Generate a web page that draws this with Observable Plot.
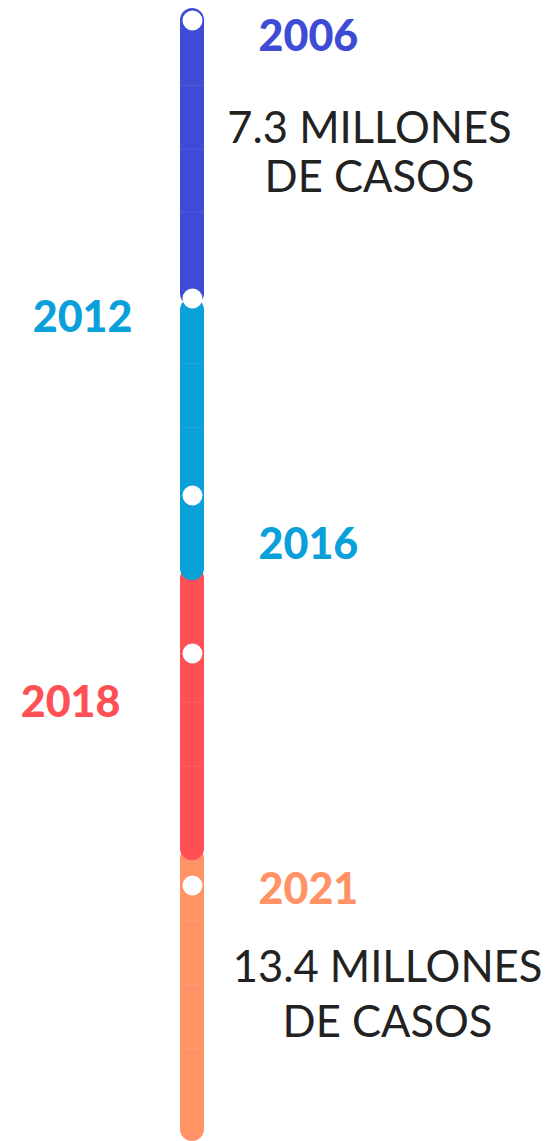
<!DOCTYPE html>
<html>
<head>
<meta charset="utf-8">
<script src="https://cdn.jsdelivr.net/npm/d3@7"></script>
<script src="https://cdn.jsdelivr.net/npm/@observablehq/plot@0.6"></script>
<style>
  html, body { margin: 0; padding: 0; background: #ffffff; }
  #chart svg { display: block; }
</style>
</head>
<body>
<div id="chart"></div>
<script>
// ---- data ----
const years = [2006, 2012, 2016, 2018, 2021];
const yearLabels = ["2006", "2012", "2016", "2018", "2021"];
const yearColors = ["#3d4bd5", "#0aa0d9", "#0aa0d9", "#ff5056", "#ff9366"];

const segStart = [2005.85, 2012, 2016.9, 2020.5];
const segEnd = [2012.15, 2017.08, 2020.68, 2024.3];
const segColors = ["#3d4bd5", "#0aa0d9", "#ff5056", "#ff9366"];

// faint divisions seen inside the bar
const divisions = [2007.4, 2008.78, 2010.14, 2013.32, 2014.62, 2015.9, 2018.63, 2019.46, 2021.45, 2022.28, 2023.1];

const caseYears = [2006, 2021];
const caseLabels = ["7.3 MILLONES\nDE CASOS", "13.4 MILLONES\nDE CASOS"];

// ---- layout (styles only) ----
const lane = "línea";
const labelSide = ["right", "left", "right", "left", "right"];
const labelDx = [66, -60, 66, -72, 66];
const labelDy = [17, 20, 50, 50, 5];
const caseDx = [177, 195];
const caseDy = [131, 106];
const caseLineHeight = [1.14, 1.27];

const segments = segStart.map((s, i) => ({lane, start: s, end: segEnd[i], color: segColors[i]}))
  .reverse(); // draw later segments first so earlier ones overlap them

const marks = [
  Plot.barY(segments, {x: "lane", y1: "start", y2: "end", fill: "color", rx: 12, ry: 12}),
  Plot.tickY(divisions.map(y => ({lane, y})), {x: "lane", y: "y", stroke: "#ffffff", strokeOpacity: 0.08, strokeWidth: 1.2}),
  Plot.dot(years.map(y => ({lane, y})), {x: "lane", y: "y", r: 10, fill: "white"})
];

years.forEach((yr, i) => {
  marks.push(Plot.text([{lane, y: yr, label: yearLabels[i]}], {
    x: "lane", y: "y", text: "label",
    fill: yearColors[i],
    textAnchor: labelSide[i] === "right" ? "start" : "end",
    dx: labelDx[i], dy: labelDy[i],
    fontSize: 43, fontWeight: 900, fontFamily: "Lato"
  }));
});

caseYears.forEach((yr, i) => {
  marks.push(Plot.text([{lane, y: yr, label: caseLabels[i]}], {
    x: "lane", y: "y", text: "label",
    fill: "#222222",
    textAnchor: "middle", lineAnchor: "middle",
    dx: caseDx[i], dy: caseDy[i], lineHeight: caseLineHeight[i],
    fontSize: 43.5, fontWeight: 400, fontFamily: "Lato"
  }));
});

const chart = Plot.plot({
  width: 548,
  height: 1141,
  margin: 0,
  style: {background: "#ffffff", overflow: "visible"},
  x: {type: "band", domain: [lane], range: [180, 204], padding: 0, axis: null},
  y: {type: "linear",
      domain: [2005.85, 2006, 2012, 2016, 2018, 2021, 2024.3],
      range: [8, 20, 298, 495, 653, 885, 1141],
      axis: null},
  color: {type: "identity"},
  marks
});
document.getElementById("chart").appendChild(chart);
</script>
</body>
</html>
